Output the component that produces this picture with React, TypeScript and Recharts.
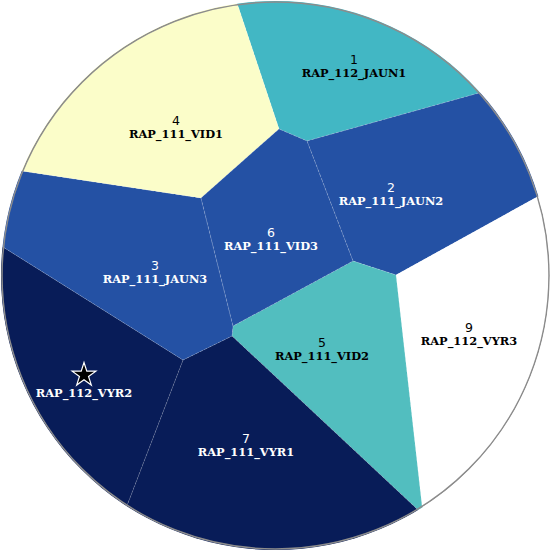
import { ReferenceDot, Scatter, ScatterChart, Symbols, XAxis, YAxis } from "recharts";

// cell ids / names, in drawing order
const CELL_IDS = [1, 2, 9, 5, 7, 8, 3, 4, 6];
const CELL_NAMES = [
  "RAP_112_JAUN1",
  "RAP_111_JAUN2",
  "RAP_112_VYR3",
  "RAP_111_VID2",
  "RAP_111_VYR1",
  "RAP_112_VYR2",
  "RAP_111_JAUN3",
  "RAP_111_VID1",
  "RAP_111_VID3",
];

// polygon vertices per cell (outer vertices lie past the circle and get clipped)
const CELL_POLYGONS: [number, number][][] = [
  [[279, 129], [237, 3], [214, -160], [601, -17], [479, 93], [307, 141]],
  [[307, 141], [479, 93], [601, -17], [694, 150], [537, 197], [396, 275], [353, 261]],
  [[396, 275], [537, 197], [694, 150], [510, 644], [422, 506]],
  [[353, 261], [396, 275], [422, 506], [510, 644], [502, 649], [417, 509], [232, 336], [233, 326]],
  [[232, 336], [417, 509], [502, 649], [40, 640], [128, 503], [183, 360]],
  [[183, 360], [128, 503], [40, 640], [-160, 230], [3, 247]],
  [[3, 247], [-160, 230], [-130, 108], [22, 171], [201, 198], [233, 326], [232, 336], [183, 360]],
  [[22, 171], [-130, 108], [214, -160], [237, 3], [279, 129], [201, 198]],
  [[201, 198], [279, 129], [307, 141], [353, 261], [233, 326]],
];

// label anchors (centre of the name line)
const LABEL_X = [354, 391, 469, 322, 246, 84, 155, 176, 271];
const LABEL_Y = [73, 201, 341, 356, 452, 393, 279, 134, 246];
const STARRED = [8];

const CELL_COLORS: Record<number, string> = {
  1: "#42b7c4",
  2: "#2451a4",
  3: "#2451a4",
  4: "#fbfdc9",
  5: "#52bebf",
  6: "#2451a4",
  7: "#081c58",
  8: "#081c58",
  9: "#ffffff",
};
const LIGHT = new Set([1, 4, 5, 9]);

const SIZE = 551;
const CX = 275.5;
const CY = 275.5;
const R = 273.5;

const labelData = CELL_IDS.map((id, i) => ({
  x: LABEL_X[i],
  y: LABEL_Y[i],
  id,
  name: CELL_NAMES[i],
}));

function CellLabel(props: any) {
  const { cx, cy, payload } = props;
  const color = LIGHT.has(payload.id) ? "#000" : "#fff";
  const starred = STARRED.includes(payload.id);
  return (
    <g>
      {starred ? (
        <Symbols
          cx={cx}
          cy={cy - 18}
          type="star"
          size={175}
          fill="#000"
          stroke="#fff"
          strokeWidth={1.2}
        />
      ) : (
        <text
          x={cx}
          y={cy - 9}
          textAnchor="middle"
          fontFamily="DejaVu Sans"
          fontSize={12.5}
          fill={color}
        >
          {payload.id}
        </text>
      )}
      <text
        x={cx}
        y={cy + 4}
        textAnchor="middle"
        fontFamily="DejaVu Serif"
        fontWeight="bold"
        fontSize={11.4}
        fill={color}
      >
        {payload.name}
      </text>
    </g>
  );
}

export default function App() {
  return (
    <div
      style={{
        position: "absolute",
        left: 0,
        top: 0,
        width: SIZE,
        height: SIZE,
        clipPath: `circle(${R + 1}px at ${CX}px ${CY}px)`,
      }}
    >
      <ScatterChart width={SIZE} height={SIZE} margin={{ top: 0, right: 0, bottom: 0, left: 0 }}>
        <XAxis type="number" dataKey="x" domain={[0, SIZE]} allowDataOverflow hide />
        <YAxis type="number" dataKey="y" domain={[0, SIZE]} allowDataOverflow reversed hide />
        {CELL_POLYGONS.map((poly, i) => {
          const id = CELL_IDS[i];
          return (
            <Scatter
              key={`cell-${id}`}
              data={poly.map(([x, y]) => ({ x, y }))}
              isAnimationActive={false}
              shape={() => <g />}
              lineType="joint"
              line={(p: any) => (
                <polygon
                  points={p.points.map((pt: any) => `${pt.x},${pt.y}`).join(" ")}
                  fill={CELL_COLORS[id]}
                  stroke="rgba(255,255,255,0.3)"
                  strokeWidth={0.6}
                  strokeDasharray="3 2"
                />
              )}
            />
          );
        })}
        <ReferenceDot
          x={CX}
          y={CY}
          r={R}
          fill="none"
          stroke="#8c8c8c"
          strokeWidth={1.5}
        />
        <Scatter data={labelData} isAnimationActive={false} shape={CellLabel} />
      </ScatterChart>
    </div>
  );
}
